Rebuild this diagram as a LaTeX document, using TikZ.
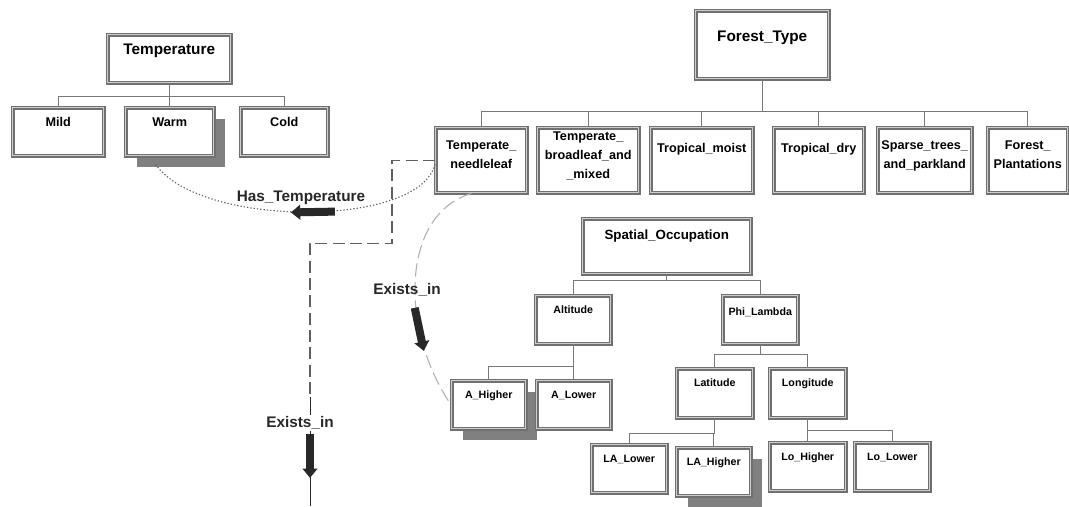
\documentclass[tikz,border=0pt]{standalone}
\usepackage{fontspec}
\setmainfont{Liberation Sans}
\usetikzlibrary{arrows.meta,calc,shadows,decorations.markings}

\definecolor{boxgray}{RGB}{112,112,112}
\definecolor{boxlight}{RGB}{205,205,205}
\definecolor{linegray}{RGB}{120,120,120}
\definecolor{shadowgray}{RGB}{128,128,128}
\definecolor{inkdark}{RGB}{40,40,40}
\definecolor{dashgray}{RGB}{95,95,95}
\definecolor{curvegray}{RGB}{175,175,175}

\tikzset{
  cls/.style={draw=boxgray, line width=1.1pt, double=boxlight, double distance=0.6pt, fill=white,
    anchor=north west, inner xsep=1pt, inner ysep=0pt, align=center},
  rootcls/.style={cls, font=\fontsize{11.5}{13}\selectfont\bfseries},
  valcls/.style={cls, font=\fontsize{9.5}{11}\selectfont\bfseries, text height=14.3pt, text depth=21.7pt},
  ftcls/.style={cls, font=\fontsize{9.5}{14.25}\selectfont\bfseries},
  oneline/.style={text height=18.8pt, text depth=29.95pt},
  twoline/.style={text height=30.8pt, text depth=17.95pt},
  threeline/.style={text height=38.3pt, text depth=10.45pt},
  subcls/.style={cls, font=\fontsize{8}{10}\selectfont\bfseries, text height=13.2pt, text depth=22.8pt},
  shade/.style={drop shadow={shadow xshift=8.5pt, shadow yshift=-8.5pt, fill=shadowgray, opacity=1}},
  link/.style={draw=linegray, line width=0.6pt},
  hasline/.style={draw=dashgray, line width=0.8pt, dash pattern=on 1pt off 1.5pt},
  existline/.style={draw=curvegray, line width=0.8pt, dash pattern=on 10pt off 4pt},
  dashline/.style={draw=dashgray, line width=0.8pt, dash pattern=on 9pt off 4pt},
  lbl/.style={font=\fontsize{11.5}{13}\selectfont\bfseries, text=inkdark, inner sep=1pt},
  fatarrow/.style={solid, draw=inkdark, line width=6pt, -{Triangle[length=7pt,width=11pt]}},
  fatmark/.style={postaction=decorate, decoration={markings,
    mark=at position #1 with {\draw[fatarrow] (-22,0) -- (22,0);}}},
}

\begin{document}
\begin{tikzpicture}[x=0.75pt,y=0.75pt,yscale=-1,xscale=1]
\fill[white] (0,0) rectangle (1069,506);
\path[use as bounding box] (0,0) rectangle (1069,506);

% Temperature
\node[rootcls, minimum width=92.25pt, text height=15pt, text depth=21pt] (temp) at (107,34) {Temperature};
\node[valcls, minimum width=68.25pt] (mild) at (12,107) {Mild};
\node[valcls, shade, minimum width=66pt] (warm) at (125,107) {Warm};
\node[valcls, minimum width=65.25pt] (cold) at (240,107) {Cold};

\draw[link] (temp.south) -- ++(0,13) -| (mild.north);
\draw[link] (temp.south) -- ++(0,13) -| (warm.north);
\draw[link] (temp.south) -- ++(0,13) -| (cold.north);

% Forest_Type
\node[rootcls, minimum width=99.75pt, text height=23.2pt, text depth=27.8pt] (ftype) at (695,10) {Forest\_Type};
\node[ftcls, twoline, minimum width=68.25pt] (tn) at (435,127) {Temperate\_\\needleleaf};
\node[ftcls, threeline, minimum width=75.75pt] (tb) at (537,127) {Temperate\_\\broadleaf\_and\\\_mixed};
\node[ftcls, oneline, minimum width=76.5pt] (tm) at (650,127) {Tropical\_moist};
\node[ftcls, oneline, minimum width=67.5pt] (td) at (773,127) {Tropical\_dry};
\node[ftcls, twoline, minimum width=70.5pt] (sp) at (877,127) {Sparse\_trees\_\\and\_parkland};
\node[ftcls, twoline, minimum width=60pt] (fp) at (987,127) {Forest\_\\Plantations};

\draw[link] (ftype.south) -- ++(0,32) -| (tn.north);
\draw[link] (ftype.south) -- ++(0,32) -| (tb.north);
\draw[link] (ftype.south) -- ++(0,32) -| (tm.north);
\draw[link] (ftype.south) -- ++(0,32) -| (td.north);
\draw[link] (ftype.south) -- ++(0,32) -| (sp.north);
\draw[link] (ftype.south) -- ++(0,32) -| (fp.north);

% Spatial_Occupation
\node[rootcls, font=\fontsize{10}{12}\selectfont\bfseries, minimum width=126pt, text height=15.4pt, text depth=25.85pt] (spatial) at (582,218) {Spatial\_Occupation};
\node[subcls, minimum width=56.25pt] (alt) at (535,295) {Altitude};
\node[subcls, minimum width=56.25pt, text height=14.7pt, text depth=21.3pt] (phi) at (722,295) {Phi\_Lambda};
\node[subcls, shade, minimum width=55.5pt] (ahigh) at (451,380) {A\_Higher};
\node[subcls, minimum width=55.5pt] (alow) at (536,380) {A\_Lower};
\node[subcls, minimum width=57pt, text depth=23.55pt] (lat) at (676,368) {Latitude};
\node[subcls, minimum width=57pt, text depth=23.55pt] (lon) at (769,368) {Longitude};
\node[subcls, minimum width=56.25pt] (lalow) at (591,444) {LA\_Lower};
\node[subcls, shade, minimum width=55.5pt] (lahigh) at (676,447) {LA\_Higher};
\node[subcls, minimum width=57pt] (lohigh) at (769,442) {Lo\_Higher};
\node[subcls, minimum width=56.25pt] (lolow) at (854,442) {Lo\_Lower};

\draw[link] (spatial.south) -- ++(0,6) -| (alt.north);
\draw[link] (spatial.south) -- ++(0,6) -| (phi.north);
\draw[link] (alt.south) -- ++(0,22) -| (ahigh.north);
\draw[link] (alt.south) -- ++(0,22) -| (alow.north);
\draw[link] (phi.south) -- ++(0,10) -| (lat.north);
\draw[link] (phi.south) -- ++(0,10) -| (lon.north);
\draw[link] (lat.south) -- ++(0,15) -| (lalow.north);
\draw[link] (lat.south) -- ++(0,15) -| (lahigh.north);
\draw[link] (lon.south) -- ++(0,12) -| (lohigh.north);
\draw[link] (lon.south) -- ++(0,12) -| (lolow.north);

% relations
\coordinate (dashend) at (310,397);
\coordinate (exitpt) at (310,506);

\draw[hasline, fatmark=0.45] ($(tn.west)+(0,4)$) .. controls (420,228) and (200,228) .. ($(warm.south)+(-14,8)$);
\draw[existline, fatmark=0.66] ($(tn.south)+(-10,0)$) .. controls (400,215) and (400,330) .. (ahigh.west);
\draw[dashline] (tn.west) -- ++(-43,0) -- ++(0,83) -| (dashend);
\draw[link, draw=inkdark, fatmark=0.54] (dashend) -- (exitpt);

\node[lbl] (hastemp) at (301,198) {Has\_Temperature};
\node[lbl] (existsa) at (407,290) {Exists\_in};
\node[lbl, fill=white] (existsb) at (300,423) {Exists\_in};

\end{tikzpicture}
\end{document}
